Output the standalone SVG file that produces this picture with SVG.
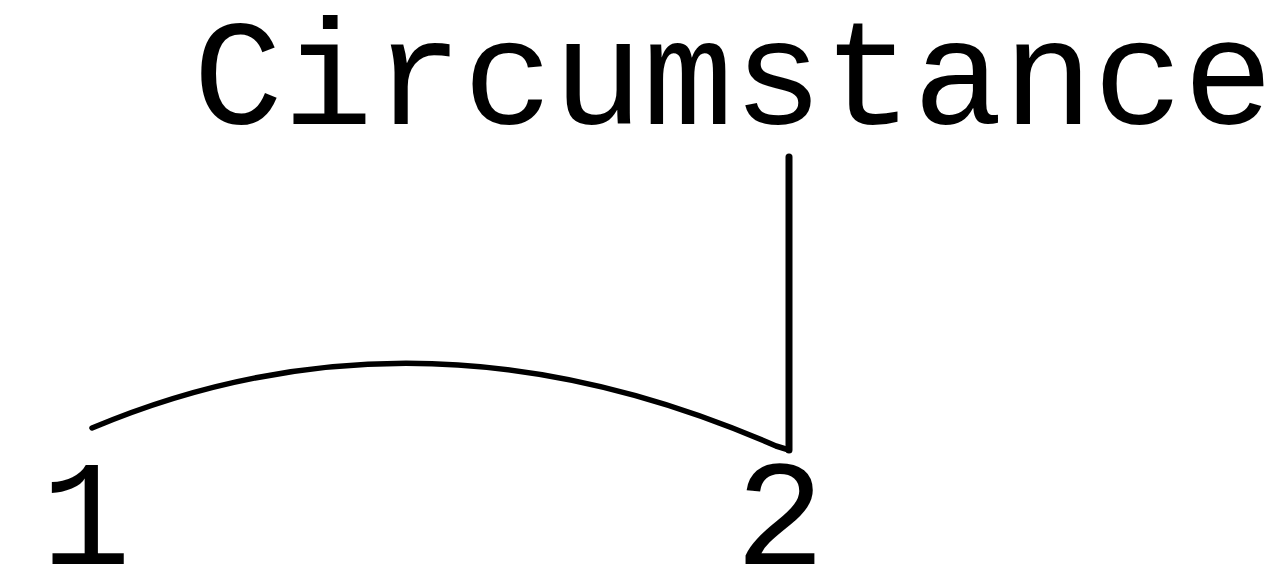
<svg xmlns="http://www.w3.org/2000/svg" width="1281" height="585" viewBox="0 0 1281 585">
<style>
.t{font-family:"Courier New","Liberation Mono",monospace;font-size:150px;fill:#000}
.c{fill:none;stroke:#000;stroke-linecap:round;stroke-linejoin:round}
</style>
<rect width="1281" height="585" fill="#fff"/>
<g id="node-circumstance"><text class="t" x="193" y="124" font-size="148">Circumstance</text></g>
<g id="node-1"><text class="t" x="86" y="564" text-anchor="middle" font-size="142">1</text></g>
<g id="node-2"><text class="t" x="780" y="564" text-anchor="middle" font-size="142">2</text></g>
<g id="connectors">
<path class="c" stroke-width="5.5" d="M92,428 Q420,290 776,446 L789,450"/>
<line class="c" stroke-width="7" x1="789" y1="157" x2="789" y2="450"/>
</g>
</svg>
